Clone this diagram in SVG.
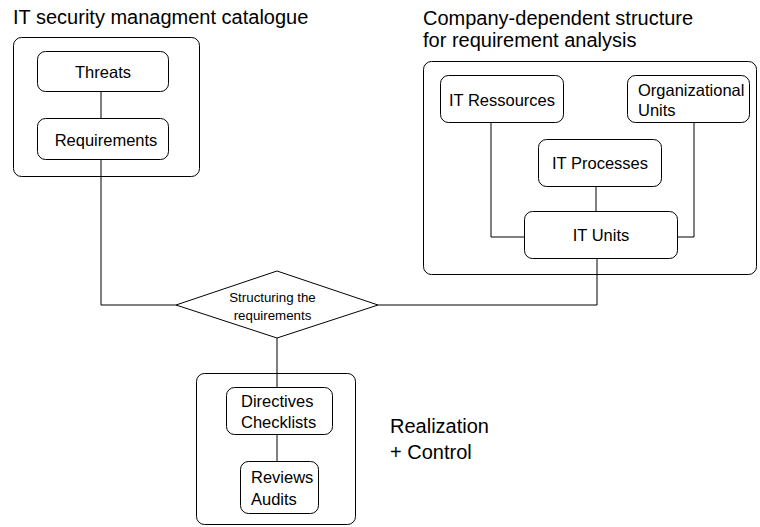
<svg xmlns="http://www.w3.org/2000/svg" width="760" height="527" viewBox="0 0 760 527">
<style>
.box{fill:#fff;stroke:#000;stroke-width:1}
.grp{fill:none;stroke:#000;stroke-width:1}
.ln{fill:none;stroke:#000;stroke-width:1}
text{font-family:"Liberation Sans",Arial,sans-serif;fill:#000}
.t{font-size:20px}
.n{font-size:16.5px;text-anchor:middle}
.l{font-size:16.5px}
.d{font-size:13.3px;text-anchor:middle}
</style>
<rect width="760" height="527" fill="#fff"/>
<g id="titles">
<text class="t" x="13" y="24">IT security managment catalogue</text>
<text class="t" x="423" y="25">Company-dependent structure</text>
<text class="t" x="423" y="46.5">for requirement analysis</text>
<text class="t" x="390" y="433">Realization</text>
<text class="t" x="390" y="459">+ Control</text>
</g>
<g id="connectors">
<path class="ln" d="M101,91 V118"/>
<path class="ln" d="M101,159 V305 H176"/>
<path class="ln" d="M378,305 H597 V258"/>
<path class="ln" d="M491,122 V237 H524"/>
<path class="ln" d="M694,122 V237 H677"/>
<path class="ln" d="M596,186 V211"/>
<path class="ln" d="M277,338 V387"/>
<path class="ln" d="M277,434 V461"/>
</g>
<g id="catalogue"><rect class="grp" x="13.5" y="37.5" width="186" height="139" rx="8"/></g>
<g id="company"><rect class="grp" x="423.5" y="61.5" width="333" height="213" rx="8"/></g>
<g id="realization"><rect class="grp" x="196.5" y="373.5" width="159" height="151" rx="8"/></g>
<g id="threats"><rect class="box" x="37.5" y="51.5" width="131" height="40" rx="8"/><text class="n" x="103" y="78">Threats</text></g>
<g id="requirements"><rect class="box" x="37.5" y="118.5" width="131" height="41" rx="8"/><text class="n" x="106" y="146">Requirements</text></g>
<g id="itressources"><rect class="box" x="440.5" y="75.5" width="123" height="47" rx="8"/><text class="n" x="502" y="106">IT Ressources</text></g>
<g id="orgunits"><rect class="box" x="627.5" y="75.5" width="122" height="47" rx="8"/><text class="l" x="638" y="96">Organizational</text><text class="l" x="638" y="116">Units</text></g>
<g id="itprocesses"><rect class="box" x="538.5" y="139.5" width="123" height="47" rx="8"/><text class="n" x="600" y="169">IT Processes</text></g>
<g id="itunits"><rect class="box" x="524.5" y="211.5" width="153" height="47" rx="8"/><text class="n" x="601" y="241">IT Units</text></g>
<g id="structuring"><path class="box" d="M176,305 L277,271 L378,305 L277,338 Z"/><text class="d" x="272.5" y="302">Structuring the</text><text class="d" x="272.5" y="320">requirements</text></g>
<g id="directives"><rect class="box" x="226.5" y="387.5" width="106" height="47" rx="8"/><text class="l" x="241" y="407">Directives</text><text class="l" x="241" y="428">Checklists</text></g>
<g id="reviews"><rect class="box" x="240.5" y="461.5" width="78" height="52" rx="8"/><text class="l" x="251" y="483">Reviews</text><text class="l" x="251" y="505">Audits</text></g>
</svg>
